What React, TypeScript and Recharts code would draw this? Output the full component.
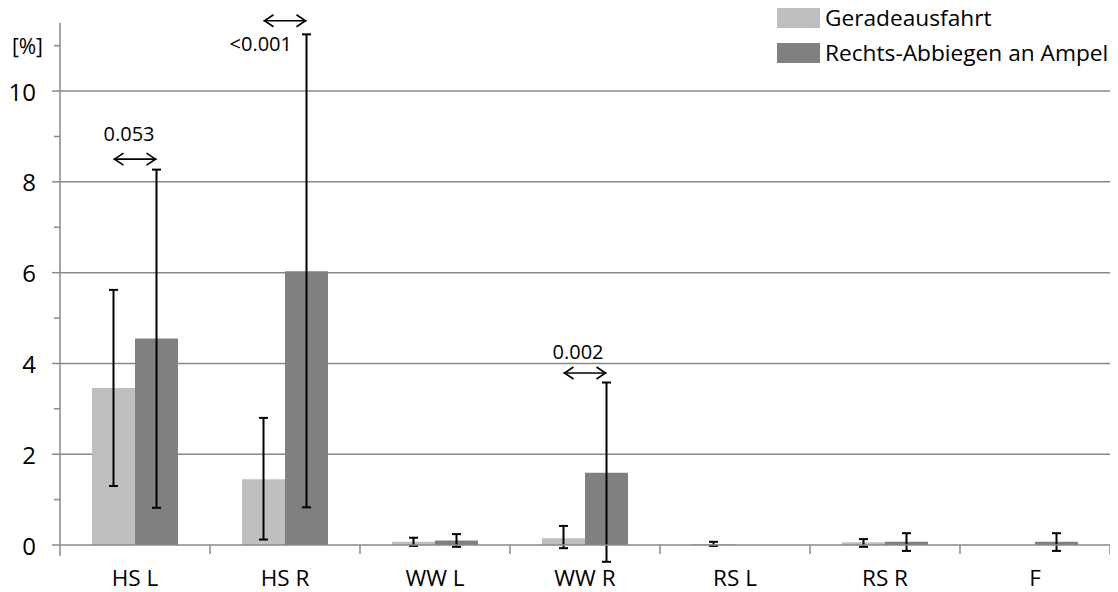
import React from 'react';
import { ComposedChart, Bar, XAxis, YAxis, CartesianGrid, ReferenceLine, Legend } from 'recharts';

const categories = ['HS L', 'HS R', 'WW L', 'WW R', 'RS L', 'RS R', 'F'];
const geradeausfahrt = [3.46, 1.45, 0.07, 0.15, 0.02, 0.06, 0];
const rechtsAbbiegen = [4.55, 6.03, 0.1, 1.59, 0, 0.07, 0.07];
const geradeLower = [1.3, 0.12, -0.02, -0.07, -0.02, -0.04, null];
const geradeUpper = [5.62, 2.8, 0.16, 0.42, 0.07, 0.13, null];
const rechtsLower = [0.82, 0.83, -0.04, -0.37, null, -0.13, -0.13];
const rechtsUpper = [8.27, 11.25, 0.24, 3.58, null, 0.26, 0.26];

const pValueCategories = ['HS L', 'HS R', 'WW R'];
const pValueLabels = ['0.053', '<0.001', '0.002'];
const pValueArrowLevels = [8.5, 11.55, 3.79];

const yTicks = [0, 1, 2, 3, 4, 5, 6, 7, 8, 9, 10, 11];
const yTickLabels = ['0', '', '2', '', '4', '', '6', '', '8', '', '10', '[%]'];
const gridValues = [2, 4, 6, 8, 10];
const Y_DOMAIN = [0, 11.5];

const FONT = '"Open Sans", sans-serif';
const BAR_SIZE = 43;
const AXIS_COLOR = '#888888';
const ANNOT_PLACEMENT = [
  { dx: -6, dy: -26, anchor: 'middle' },
  { dx: 7, dy: 23, anchor: 'end' },
  { dx: -7, dy: -21, anchor: 'middle' },
];

const rows = categories.map((cat, i) => ({
  cat,
  gerade: geradeausfahrt[i],
  rechts: rechtsAbbiegen[i],
}));

const YTick = (props: any) => {
  const { x, y, payload } = props;
  const v = payload.value;
  const label = yTickLabels[yTicks.indexOf(v)];
  const major = v % 2 === 0;
  return (
    <g>
      <line x1={x - (major ? 8 : 6)} x2={x} y1={y} y2={y} stroke={AXIS_COLOR} strokeWidth={1.5} />
      {label ? (
        <text
          x={v === 11 ? x - 17 : x - 24}
          y={y}
          textAnchor="end"
          dominantBaseline="central"
          fontFamily={FONT}
          fontSize={v === 11 ? 21 : 24}
          fill="#000"
        >
          {label}
        </text>
      ) : null}
    </g>
  );
};

const XTick = (props: any) => {
  const { x, y, payload, index, visibleTicksCount } = props;
  const half = payload.offset ?? 75;
  return (
    <g>
      <line x1={x - half} x2={x - half} y1={y} y2={y + (index === 0 ? 11 : 9)} stroke={AXIS_COLOR} strokeWidth={1.5} />
      {index === visibleTicksCount - 1 ? (
        <line x1={x + half} x2={x + half} y1={y} y2={y + 9} stroke={AXIS_COLOR} strokeWidth={1.5} />
      ) : null}
      <text x={x} y={y + 41} textAnchor="middle" fontFamily={FONT} fontSize={22.5} fill="#000">
        {payload.value}
      </text>
    </g>
  );
};

const makeErrShape = (dx: number) => (p: any) => {
  const { x1, y1, y2 } = p;
  const x = x1 + dx;
  return (
    <g>
      <line x1={x} x2={x} y1={y1} y2={y2} stroke="#000" strokeWidth={2} />
      <line x1={x - 4.5} x2={x + 4.5} y1={y1} y2={y1} stroke="#000" strokeWidth={2} />
      <line x1={x - 4.5} x2={x + 4.5} y1={y2} y2={y2} stroke="#000" strokeWidth={2} />
    </g>
  );
};

const makeArrowShape = (k: number) => (p: any) => {
  const { x1: cx, y1: cy } = p;
  const half = BAR_SIZE / 2;
  const a = cx - half;
  const b = cx + half;
  const pl = ANNOT_PLACEMENT[k];
  return (
    <g>
      <line x1={a} x2={b} y1={cy} y2={cy} stroke="#000" strokeWidth={1.6} />
      <polyline points={`${a + 10},${cy - 6} ${a + 1},${cy} ${a + 10},${cy + 6}`} fill="none" stroke="#000" strokeWidth={1.6} />
      <polyline points={`${b - 10},${cy - 6} ${b - 1},${cy} ${b - 10},${cy + 6}`} fill="none" stroke="#000" strokeWidth={1.6} />
      <text
        x={cx + pl.dx}
        y={cy + pl.dy}
        textAnchor={pl.anchor as any}
        dominantBaseline="central"
        fontFamily={FONT}
        fontSize={20}
        fill="#000"
      >
        {pValueLabels[k]}
      </text>
    </g>
  );
};

const LegendContent = (props: any) => {
  const items = (props.payload || []).filter((p: any) => p.type !== 'none');
  return (
    <div style={{ fontFamily: FONT, fontSize: 22.7, color: '#000' }}>
      {items.map((p: any, i: number) => (
        <div key={i} style={{ display: 'flex', alignItems: 'center', height: 20, marginBottom: i === 0 ? 15 : 0 }}>
          <div style={{ width: 43, height: 20, background: p.color, marginRight: 5, flex: 'none' }} />
          <span style={{ lineHeight: '20px', whiteSpace: 'nowrap' }}>{p.value}</span>
        </div>
      ))}
    </div>
  );
};

const errorSegments = [
  ...categories.map((cat, i) => ({ cat, lo: geradeLower[i], hi: geradeUpper[i], dx: -BAR_SIZE / 2, key: `g${i}` })),
  ...categories.map((cat, i) => ({ cat, lo: rechtsLower[i], hi: rechtsUpper[i], dx: BAR_SIZE / 2, key: `r${i}` })),
].filter((s) => s.lo != null && s.hi != null);

export default function App() {
  return (
    <ComposedChart
      width={1102}
      height={584}
      data={rows}
      margin={{ top: 15, right: 0, bottom: 0, left: 0 }}
      barGap={0}
    >
      <CartesianGrid vertical={false} horizontalValues={gridValues} stroke={AXIS_COLOR} strokeWidth={1.5} />
      <XAxis
        dataKey="cat"
        height={47}
        interval={0}
        tickLine={false}
        tickSize={0}
        tickMargin={0}
        axisLine={{ stroke: AXIS_COLOR, strokeWidth: 1.5 }}
        tick={XTick}
      />
      <YAxis
        width={52}
        type="number"
        domain={Y_DOMAIN}
        ticks={yTicks}
        interval={0}
        tickLine={false}
        tickSize={0}
        tickMargin={0}
        axisLine={{ stroke: AXIS_COLOR, strokeWidth: 1.5 }}
        tick={YTick}
      />
      <Legend
        layout="horizontal"
        verticalAlign="middle"
        align="center"
        content={LegendContent}
        wrapperStyle={{ top: 0, left: 769, width: 340 }}
      />
      <Bar dataKey="gerade" name="Geradeausfahrt" fill="#bfbfbf" barSize={BAR_SIZE} isAnimationActive={false} />
      <Bar dataKey="rechts" name="Rechts-Abbiegen an Ampel" fill="#808080" barSize={BAR_SIZE} isAnimationActive={false} />
      {errorSegments.map((s) => (
        <ReferenceLine
          key={s.key}
          segment={[{ x: s.cat, y: s.lo as number }, { x: s.cat, y: s.hi as number }]}
          ifOverflow="visible"
          shape={makeErrShape(s.dx)}
        />
      ))}
      {pValueCategories.map((cat, k) => (
        <ReferenceLine
          key={`p${k}`}
          segment={[{ x: cat, y: pValueArrowLevels[k] }, { x: cat, y: pValueArrowLevels[k] }]}
          ifOverflow="visible"
          shape={makeArrowShape(k)}
        />
      ))}
    </ComposedChart>
  );
}
